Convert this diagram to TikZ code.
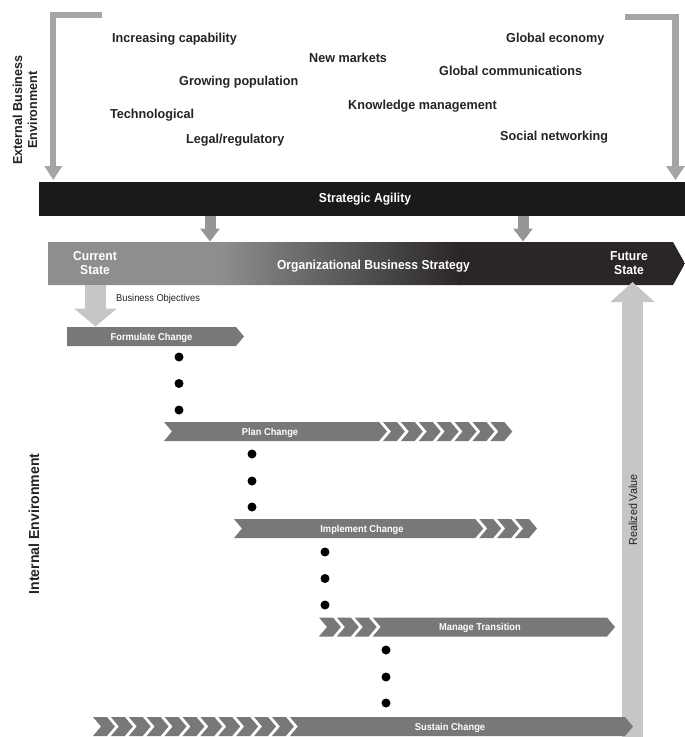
\documentclass[tikz,border=0pt]{standalone}
\usepackage{fontspec}
\setmainfont{Liberation Sans}[FakeStretch=0.93]
\newfontfamily\extfont{Liberation Sans}[FakeStretch=0.97]
\usetikzlibrary{arrows.meta}
\definecolor{txt}{RGB}{35,35,42}
\definecolor{bent}{RGB}{165,165,165}
\definecolor{midarrow}{RGB}{150,150,150}
\definecolor{lightarrow}{RGB}{198,198,198}
\definecolor{stepgray}{RGB}{120,120,120}
\definecolor{agility}{RGB}{28,25,25}
\definecolor{orgA}{RGB}{142,142,142}
\definecolor{orgB}{RGB}{42,38,38}
\newcommand\mychev[2]{\fill[stepgray] (#1,#2) -- ++(13.9,0) -- ++(8,9.5) -- ++(-8,9.5) -- ++(-13.9,0) -- ++(8,-9.5) -- cycle;}
\begin{document}
\begin{tikzpicture}[x=1pt,y=-1pt,
  ext/.style={font=\extfont\fontsize{13}{15}\selectfont\bfseries, text=txt, inner sep=0, anchor=base west},
  barlabel/.style={font=\fontsize{13}{14}\selectfont\bfseries, text=white, inner sep=0, anchor=base},
  steplabel/.style={font=\fontsize{10}{12}\selectfont\bfseries, text=white, inner sep=0, anchor=base},
  dotmark/.style={circle, fill=black, minimum size=9pt, inner sep=0},
  bentarrow/.style={draw=bent, line join=miter},
]
\useasboundingbox (0,0) rectangle (685,737);
\fill[white] (0,0) rectangle (685,737);

% external environment
\coordinate (lstart) at (101.5,14.5);
\coordinate (lcorner) at (53.3,14.5);
\coordinate (lend) at (53.3,180);
\draw[bentarrow, line width=6pt, -{Triangle[width=17pt,length=14pt]}] (lstart) -- (lcorner) -- (lend);
\coordinate (rstart) at (625,17);
\coordinate (rcorner) at (675.5,17);
\coordinate (rend) at (675.5,180);
\draw[bentarrow, line width=6.5pt, -{Triangle[width=18pt,length=14pt]}] (rstart) -- (rcorner) -- (rend);

\node[font=\extfont\fontsize{13}{15}\selectfont\bfseries, text=txt, rotate=90, align=center, inner sep=0] (extlab) at (25,110) {External Business\\Environment};

\node[ext] (t1) at (112,42.5) {Increasing capability};
\node[ext] (t2) at (309,62) {New markets};
\node[ext] (t3) at (506,42) {Global economy};
\node[ext] (t4) at (179,85.5) {Growing population};
\node[ext] (t5) at (439,75) {Global communications};
\node[ext] (t6) at (110,118.5) {Technological};
\node[ext] (t7) at (348,109.5) {Knowledge management};
\node[ext] (t8) at (186,143) {Legal/regulatory};
\node[ext] (t9) at (500,140) {Social networking};

% strategic agility bar
\node[fill=agility, minimum width=646pt, minimum height=34pt, inner sep=0, anchor=north west] (agility) at (39,182) {};
\node[barlabel] (agilab) at (365,202.5) {Strategic Agility};

% organizational bar
\begin{scope}
\clip (48,242) -- (673,242) -- (685,263.5) -- (673,285) -- (48,285) -- cycle;
\fill[orgA] (47,241) rectangle (221,286);
\shade[left color=orgA, right color=orgB] (220,241) rectangle (461,286);
\fill[orgB] (460,241) rectangle (686,286);
\end{scope}
\coordinate (orgtop1) at (210,241.5);
\coordinate (orgtop2) at (523,241.5);
\draw[midarrow, line width=11pt, -{Triangle[width=19pt,length=13pt]}] (agility.south -| orgtop1) -- (orgtop1);
\draw[midarrow, line width=11pt, -{Triangle[width=19pt,length=13pt]}] (agility.south -| orgtop2) -- (orgtop2);
\node[barlabel] (orglab) at (373.5,269) {Organizational Business Strategy};
\node[barlabel] (cur1) at (95,260) {Current};
\node[barlabel] (cur2) at (95,274) {State};
\node[barlabel] (fut1) at (629,260) {Future};
\node[barlabel] (fut2) at (629,274) {State};

% business objectives arrow
\coordinate (boStart) at (95.5,285);
\coordinate (boEnd) at (95.5,326.5);
\draw[lightarrow, line width=21pt, -{Triangle[width=42pt,length=18pt]}] (boStart) -- (boEnd);
\node[font=\fontsize{10}{12}\selectfont, text=txt, inner sep=0, anchor=base west] (bolab) at (116,301.5) {Business Objectives};

% realized value arrow
\coordinate (rvStart) at (632.5,737);
\coordinate (rvEnd) at (632.5,282);
\draw[lightarrow, line width=21pt, -{Triangle[width=43pt,length=20pt]}] (rvStart) -- (rvEnd);
\node[font=\fontsize{11.5}{13}\selectfont, text=txt, inner sep=0, rotate=90] (rvlab) at (633,510) {Realized Value};

% internal environment
\node[font=\extfont\fontsize{14.5}{16}\selectfont\bfseries, text=txt, inner sep=0, rotate=90] (intlab) at (34,524) {Internal Environment};

% formulate change
\fill[stepgray] (67,327) -- (236,327) -- (244,336.5) -- (236,346) -- (67,346) -- cycle;
\node[steplabel] (s1) at (151.5,340.3) {Formulate Change};

% plan change
\fill[stepgray] (164,422) -- (379,422) -- (387,431.5) -- (379,441) -- (164,441) -- (172,431.5) -- cycle;
\foreach \k in {0,...,6} {\pgfmathsetmacro\xx{383+17.9*\k}\mychev{\xx}{422}}
\node[steplabel] (s2) at (270,435.3) {Plan Change};

% implement change
\fill[stepgray] (234,519) -- (475.3,519) -- (483.3,528.5) -- (475.3,538) -- (234,538) -- (242,528.5) -- cycle;
\foreach \k in {0,...,2} {\pgfmathsetmacro\xx{479.3+17.9*\k}\mychev{\xx}{519}}
\node[steplabel] (s3) at (362,532.3) {Implement Change};

% manage transition
\foreach \k in {0,...,2} {\pgfmathsetmacro\xx{319+17.9*\k}\mychev{\xx}{617.5}}
\fill[stepgray] (372.7,617.5) -- (607,617.5) -- (615,627) -- (607,636.5) -- (372.7,636.5) -- (380.7,627) -- cycle;
\node[steplabel] (s4) at (480,630.8) {Manage Transition};

% sustain change
\foreach \k in {0,...,10} {\pgfmathsetmacro\xx{93+17.9*\k}\mychev{\xx}{717}}
\fill[stepgray] (289.9,717) -- (625,717) -- (633,726.5) -- (625,736) -- (289.9,736) -- (297.9,726.5) -- cycle;
\node[steplabel] (s5) at (450,730.3) {Sustain Change};

% dots
\foreach \y [count=\i] in {357,383.5,410} \node[dotmark] (da\i) at (179,\y) {};
\foreach \y [count=\i] in {454,481,507} \node[dotmark] (db\i) at (252,\y) {};
\foreach \y [count=\i] in {552,578.5,605} \node[dotmark] (dc\i) at (325,\y) {};
\foreach \y [count=\i] in {650,677,703} \node[dotmark] (dd\i) at (386,\y) {};
\end{tikzpicture}
\end{document}
